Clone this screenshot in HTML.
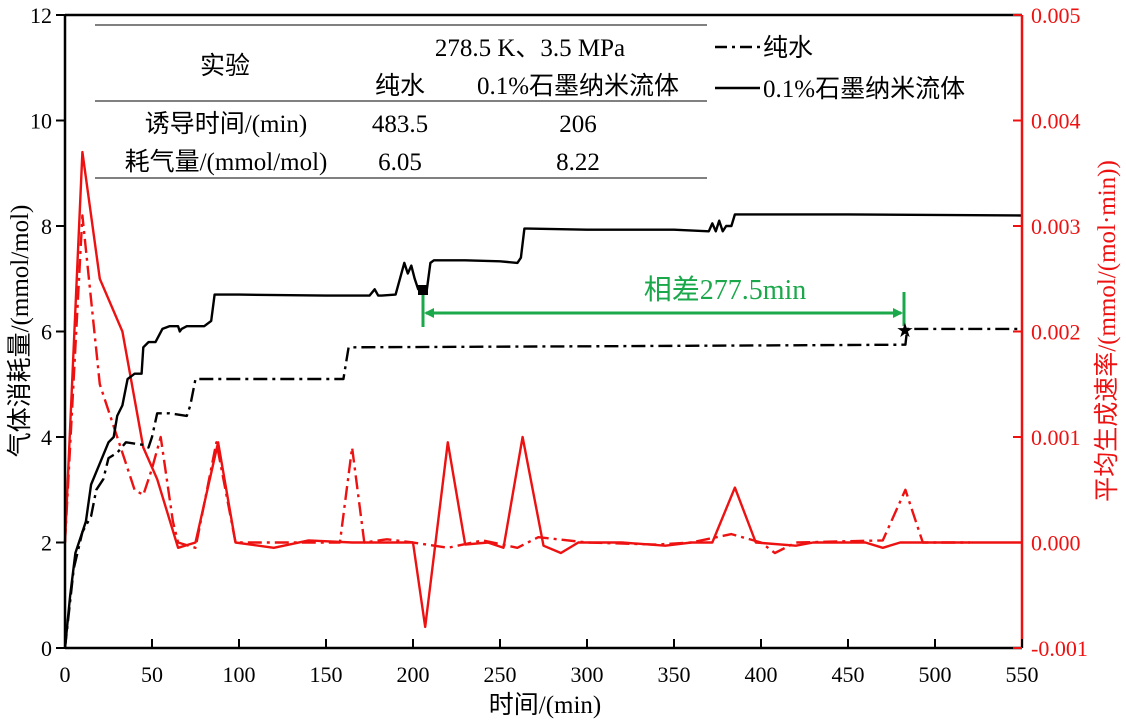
<!DOCTYPE html>
<html><head><meta charset="utf-8"><style>
body{margin:0;background:#fff;}
svg{display:block;font-family:"Liberation Serif","Noto Serif CJK SC","Noto Sans CJK SC",serif;}
</style></head><body>
<svg id="chart" width="1126" height="720" viewBox="0 0 1126 720" style="position:absolute;left:0;top:0">
<g id="marks"></g>
<g id="axes"></g>
</svg>
<script>
const xTicks=[0,50,100,150,200,250,300,350,400,450,500,550];
const yLeftTicks=[0,2,4,6,8,10,12];
const yRightTicks=[-0.001,0,0.001,0.002,0.003,0.004,0.005];
const yRightLabels=["-0.001","0.000","0.001","0.002","0.003","0.004","0.005"];
const graphiteT=[0,3,6,10,12,15,20,25,28,30,33,36,40,44,45,48,52,56,60,65,66,67,70,80,84,86,100,150,175,178,180,182,190,195,197,199,201,203,205,208,210,212,230,250,260,262,264,266,300,350,370,372,374,376,378,380,383,385,450,550];
const graphiteV=[0,1,1.8,2.2,2.4,3.1,3.5,3.9,4.0,4.4,4.6,5.1,5.2,5.2,5.7,5.8,5.8,6.05,6.1,6.1,6.0,6.05,6.1,6.1,6.2,6.7,6.7,6.68,6.68,6.8,6.68,6.68,6.7,7.3,7.1,7.25,7.0,6.8,6.8,6.8,7.3,7.35,7.35,7.33,7.3,7.4,7.95,7.95,7.93,7.93,7.9,8.05,7.9,8.1,7.9,8.0,8.0,8.22,8.22,8.2];
const waterT=[0,5,10,15,18,22,25,30,35,45,48,50,53,60,70,72,75,100,160,163,300,483,484,550];
const waterV=[0,1.5,2.2,2.5,3.0,3.2,3.6,3.7,3.9,3.85,3.8,4.0,4.45,4.45,4.4,4.6,5.1,5.1,5.1,5.7,5.72,5.75,6.05,6.05];
const rateGT=[0,10,20,33,45,53,65,75,88,98,120,140,165,180,200,207,220,230,243,252,263,275,285,295,320,345,360,372,385,397,420,430,460,470,480,500,550];
const rateGV=[0,0.0037,0.0025,0.002,0.0009,0.0006,-0.00005,0,0.00095,0,-0.00005,0.00002,0,0,0,-0.0008,0.00095,-0.00002,0,-0.00005,0.001,-0.00003,-0.0001,0,0,-0.00003,0,0,0.00052,0,-0.00003,0,0,-0.00005,0,0,0];
const rateWT=[0,10,20,30,40,45,50,55,62,65,75,87,98,140,158,165,172,185,200,220,240,260,272,300,340,360,383,400,408,420,470,483,493,520];
const rateWV=[0,0.0031,0.0015,0.001,0.0005,0.00045,0.0007,0.001,0.0002,0,-0.00005,0.00095,0,0,0,0.0009,0,0.00003,0,-0.00005,0.00002,-0.00005,0.00005,0,-0.00002,0,0.00008,0,-0.0001,0,0.00002,0.0005,0,0];

const X0=65,X1=1022,Y0=648,Y1=15;
const sx=t=>X0+t*(X1-X0)/550;
const syL=v=>Y0-v*(Y0-Y1)/12;
const syR=r=>Y0-(r+0.001)*(Y0-Y1)/0.006;
const NS="http://www.w3.org/2000/svg";
const marks=document.getElementById('marks'),axes=document.getElementById('axes');
function mk(tag,attrs,parent,text){const e=document.createElementNS(NS,tag);for(const k in attrs)e.setAttribute(k,attrs[k]);if(text!==undefined)e.textContent=text;parent.appendChild(e);return e;}
function poly(T,V,fy,stroke,dash,name){
  const p=T.map((t,i)=>sx(t).toFixed(1)+','+fy(V[i]).toFixed(1)).join(' ');
  const e=mk('polyline',{points:p,fill:'none',stroke:stroke,'stroke-width':2.4,'stroke-dasharray':dash||'none','stroke-linejoin':'round'},marks);
  
  
}
poly(rateWT,rateWV,syR,'#ee1111','14 5 3 5','water-rate-line');
poly(rateGT,rateGV,syR,'#ee1111',null,'graphite-rate-line');
poly(waterT,waterV,syL,'#000','14 5 3 5','water-gas-line');
poly(graphiteT,graphiteV,syL,'#000',null,'graphite-gas-line');

mk('line',{x1:X0,y1:Y0,x2:X1,y2:Y0,stroke:'#000','stroke-width':2.5},axes);
mk('line',{x1:X0,y1:Y1,x2:X1,y2:Y1,stroke:'#000','stroke-width':2.5},axes);
mk('line',{x1:X0,y1:Y0,x2:X0,y2:Y1,stroke:'#000','stroke-width':2.5},axes);
mk('line',{x1:X1,y1:Y0,x2:X1,y2:Y1,stroke:'#ee1111','stroke-width':2.5},axes);
xTicks.forEach(t=>{
  mk('line',{x1:sx(t),y1:Y0,x2:sx(t),y2:Y0-9,stroke:'#000','stroke-width':2},axes);
  const e=mk('text',{x:sx(t),y:682,'font-size':22,'text-anchor':'middle'},axes,String(t));
  
  
});
yLeftTicks.forEach(v=>{
  mk('line',{x1:X0,y1:syL(v),x2:X0-9,y2:syL(v),stroke:'#000','stroke-width':2},axes);
  const e=mk('text',{x:52,y:syL(v)+8,'font-size':22,'text-anchor':'end'},axes,String(v));
  
  
});
yRightTicks.forEach((r,i)=>{
  mk('line',{x1:X1,y1:syR(r),x2:X1-9,y2:syR(r),stroke:'#ee1111','stroke-width':2},axes);
  const e=mk('text',{x:1031,y:syR(r)+8,'font-size':22,fill:'#ee1111'},axes,yRightLabels[i]);
  
  
});
</script>
<svg style="position:absolute;left:0;top:0" width="1126" height="720">
<g>
<text x="545" y="713" font-size="25" text-anchor="middle" font-family="Liberation Serif, Noto Sans CJK SC, serif">时间/(min)</text>
<text transform="translate(28,331) rotate(-90)" font-size="25" text-anchor="middle" font-family="Liberation Serif, Noto Sans CJK SC, serif">气体消耗量/(mmol/mol)</text>
<text transform="translate(1115,331) rotate(-90)" font-size="25" fill="#ee1111" text-anchor="middle" font-family="Liberation Serif, Noto Sans CJK SC, serif">平均生成速率/(mmol/(mol·min))</text>
</g>
<g font-family="Liberation Serif, Noto Sans CJK SC, serif" font-size="25">
<line x1="95" y1="25" x2="707" y2="25" stroke="#000" stroke-width="1"/>
<line x1="95" y1="101" x2="707" y2="101" stroke="#000" stroke-width="1"/>
<line x1="95" y1="178" x2="707" y2="178" stroke="#000" stroke-width="1"/>
<text x="225" y="74" text-anchor="middle">实验</text>
<text x="530" y="56" text-anchor="middle">278.5 K、3.5 MPa</text>
<text x="400" y="94" text-anchor="middle">纯水</text>
<text x="578" y="94" text-anchor="middle">0.1%石墨纳米流体</text>
<text x="226" y="132" text-anchor="middle">诱导时间/(min)</text>
<text x="400" y="132" text-anchor="middle">483.5</text>
<text x="578" y="132" text-anchor="middle">206</text>
<text x="226" y="170" text-anchor="middle">耗气量/(mmol/mol)</text>
<text x="400" y="170" text-anchor="middle">6.05</text>
<text x="578" y="170" text-anchor="middle">8.22</text>
</g>
<g font-family="Liberation Serif, Noto Sans CJK SC, serif" font-size="25">
<line x1="715" y1="47" x2="760" y2="47" stroke="#000" stroke-width="2.4" stroke-dasharray="12 5 3 5"/>
<text x="763" y="56">纯水</text>
<line x1="715" y1="88" x2="760" y2="88" stroke="#000" stroke-width="2.4"/>
<text x="763" y="97">0.1%石墨纳米流体</text>
</g>
<g stroke="#1aa84b" stroke-width="3" fill="#1aa84b">
<line x1="423" y1="285" x2="423" y2="327"/>
<line x1="904" y1="292" x2="904" y2="326"/>
<line x1="426" y1="313" x2="901" y2="313"/>
<polygon points="424,313 434,308 434,318" stroke="none"/>
<polygon points="903,313 893,308 893,318" stroke="none"/>
<text x="725" y="299" font-size="28" text-anchor="middle" stroke="none" font-family="Liberation Serif, Noto Sans CJK SC, serif">相差277.5min</text>
</g>
<rect x="418" y="285" width="10" height="10" fill="#000"/>
<text x="905" y="337" font-size="20" text-anchor="middle" font-family="DejaVu Sans, sans-serif">★</text>
</svg>
</body></html>
